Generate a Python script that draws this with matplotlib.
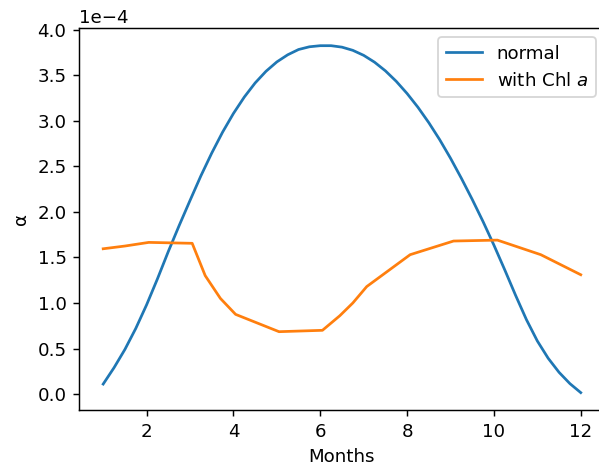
import matplotlib
matplotlib.use("Agg")
import matplotlib.pyplot as plt
import numpy as np

# normal alpha (x1e-4)
months_normal = [1.0, 1.25, 1.5, 1.75, 2.0, 2.25, 2.5, 2.75, 3.0, 3.25, 3.5, 3.75,
                 4.0, 4.25, 4.5, 4.75, 5.0, 5.25, 5.5, 5.75, 6.0, 6.25, 6.5, 6.75,
                 7.0, 7.25, 7.5, 7.75, 8.0, 8.25, 8.5, 8.75, 9.0, 9.25, 9.5, 9.75,
                 10.0, 10.25, 10.5, 10.75, 11.0, 11.25, 11.5, 11.75, 12.0]
alpha_normal = [0.11, 0.29, 0.49, 0.72, 0.98, 1.265, 1.565, 1.85, 2.125, 2.395, 2.645, 2.875,
                3.08, 3.26, 3.415, 3.543, 3.646, 3.724, 3.782, 3.812, 3.824, 3.824, 3.808, 3.773,
                3.718, 3.643, 3.548, 3.433, 3.299, 3.148, 2.979, 2.793, 2.589, 2.369, 2.137, 1.893,
                1.635, 1.363, 1.083, 0.816, 0.583, 0.393, 0.239, 0.115, 0.016]

# alpha with Chl a (x1e-4)
months_chl = [1.0, 1.5, 2.05, 3.05, 3.35, 3.7, 4.05, 5.05, 6.05, 6.45, 6.75, 7.07,
              8.07, 9.07, 10.08, 11.08, 12.0]
alpha_chl = [1.595, 1.625, 1.665, 1.655, 1.30, 1.05, 0.875, 0.685, 0.70, 0.86, 1.00, 1.18,
             1.53, 1.68, 1.69, 1.53, 1.31]

scale = 1e-4

D = 131
fig = plt.figure(figsize=(599 / D, 470 / D), dpi=D)
ax = fig.add_axes([0.1324, 0.1277, 0.877, 0.812])
ax.plot(months_normal, np.array(alpha_normal) * scale, label="normal")
ax.plot(months_chl, np.array(alpha_chl) * scale, label="with Chl $a$")
ax.ticklabel_format(axis="y", style="sci", scilimits=(0, 0))
ax.set_xlabel("Months")
ax.set_ylabel("α")
ax.legend(loc="upper right")
fig.savefig("out.png", dpi=D)
